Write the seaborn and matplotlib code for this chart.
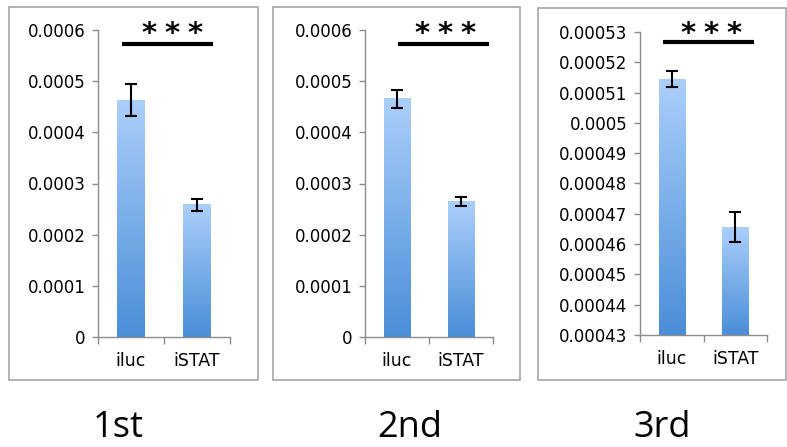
import numpy as np
import matplotlib
matplotlib.use("Agg")
import matplotlib.pyplot as plt
import seaborn as sns
from matplotlib.colors import LinearSegmentedColormap
from matplotlib.patches import Rectangle
from matplotlib.ticker import FixedLocator
from matplotlib.transforms import offset_copy

# ---------------- data ----------------
categories = ["iluc", "iSTAT"]
panel_titles = ["1st", "2nd", "3rd"]

means_1st = [0.000463, 0.000258]
err_1st = [0.000031, 0.000012]
means_2nd = [0.000466, 0.000265]
err_2nd = [0.0000175, 0.0000095]
means_3rd = [0.0005144, 0.0004656]
err_3rd = [0.0000027, 0.0000050]

yticks_12 = [0, 0.0001, 0.0002, 0.0003, 0.0004, 0.0005, 0.0006]
ylabels_12 = ["0", "0.0001", "0.0002", "0.0003", "0.0004", "0.0005", "0.0006"]
yticks_3 = [0.00043, 0.00044, 0.00045, 0.00046, 0.00047, 0.00048,
            0.00049, 0.00050, 0.00051, 0.00052, 0.00053]
ylabels_3 = ["0.00043", "0.00044", "0.00045", "0.00046", "0.00047", "0.00048",
             "0.00049", "0.0005", "0.00051", "0.00052", "0.00053"]
significance = "***"

# ---------------- style ----------------
sns.set_theme(style="white")
plt.rcParams["font.family"] = ["DejaVu Sans"]

W, H = 787, 447
fig = plt.figure(figsize=(W / 100, H / 100), dpi=100)


def frac_rect(l, t, r, b):
    return [l / W, 1 - b / H, (r - l) / W, (b - t) / H]


grad_cmap = LinearSegmentedColormap.from_list("bar", ["#4a8ed8", "#abcffb"])
grad = np.linspace(0, 1, 256).reshape(-1, 1)

panels = [
    dict(means=means_1st, errs=err_1st, yticks=yticks_12, ylabels=ylabels_12,
         rect=(98, 30, 230, 337), box=(9, 7, 258, 380),
         line=(0.182, 0.871, 0.956), star=(0.561, 0.962), title_x=118),
    dict(means=means_2nd, errs=err_2nd, yticks=yticks_12, ylabels=ylabels_12,
         rect=(365, 30, 493, 337), box=(273, 7, 520, 380),
         line=(0.258, 0.969, 0.956), star=(0.625, 0.962), title_x=410),
    dict(means=means_3rd, errs=err_3rd, yticks=yticks_3, ylabels=ylabels_3,
         rect=(640, 32, 767, 335), box=(538, 8, 786, 380),
         line=(0.181, 0.898, 0.968), star=(0.559, 0.968), title_x=662),
]

spine_col = "#8c8c8c"
star_step_pt = 16.5  # spacing between asterisk centres, in points

for p, title in zip(panels, panel_titles):
    ax = fig.add_axes(frac_rect(*p["rect"]))
    ylim = (p["yticks"][0], p["yticks"][-1])
    sns.barplot(x=categories, y=p["means"], ax=ax, width=0.41,
                color="#6fa6e6", saturation=1, errorbar=None)
    # gradient fill for each bar
    for patch in ax.patches:
        x0 = patch.get_x()
        x1 = x0 + patch.get_width()
        top = patch.get_y() + patch.get_height()
        ax.imshow(grad, cmap=grad_cmap, origin="lower", aspect="auto",
                  extent=[x0, x1, ylim[0], top], zorder=2)
        patch.set_facecolor("none")
        patch.set_edgecolor("none")
    ax.errorbar(np.arange(len(categories)), p["means"], yerr=p["errs"],
                fmt="none", ecolor="black", elinewidth=1.5, capsize=4,
                capthick=1.5, zorder=5)
    ax.set_xlim(-0.5, 1.5)
    ax.set_ylim(*ylim)
    ax.set_yticks(p["yticks"])
    ax.set_yticklabels(p["ylabels"])
    ax.set_xlabel("")
    ax.set_ylabel("")
    for s in ["top", "right"]:
        ax.spines[s].set_visible(False)
    for s in ["left", "bottom"]:
        ax.spines[s].set_color(spine_col)
        ax.spines[s].set_linewidth(1.0)
    ax.tick_params(axis="y", left=True, direction="out", length=4, width=1,
                   color=spine_col, pad=5, labelsize=12, labelcolor="black")
    ax.tick_params(axis="x", which="major", bottom=True, length=0, pad=11,
                   labelsize=12.5, labelcolor="black")
    ax.xaxis.set_minor_locator(FixedLocator([-0.5, 0.5, 1.5]))
    ax.tick_params(axis="x", which="minor", bottom=True, direction="out",
                   length=5, width=1, color=spine_col)
    # significance annotation
    lx0, lx1, ly = p["line"]
    ax.plot([lx0, lx1], [ly, ly], transform=ax.transAxes, color="black",
            lw=3, clip_on=False, solid_capstyle="butt")
    sx, sy = p["star"]
    n = len(significance)
    for i, ch in enumerate(significance):
        dx = (i - (n - 1) / 2) * star_step_pt
        tr = offset_copy(ax.transAxes, fig=fig, x=dx, y=0, units="points")
        ax.text(sx, sy, ch, transform=tr, ha="center", va="baseline",
                fontsize=21, fontweight="bold", color="black")
    # panel border
    l, t, r, b = p["box"]
    fig.patches.append(Rectangle((l / W, 1 - b / H), (r - l) / W, (b - t) / H,
                                 transform=fig.transFigure, fill=False,
                                 edgecolor="#a6a6a6", lw=1.2))
    fig.text(p["title_x"] / W, 1 - 437 / H, title, ha="center",
             va="baseline", fontsize=26, family="Open Sans", color="black")

fig.savefig("out.png", dpi=100)
